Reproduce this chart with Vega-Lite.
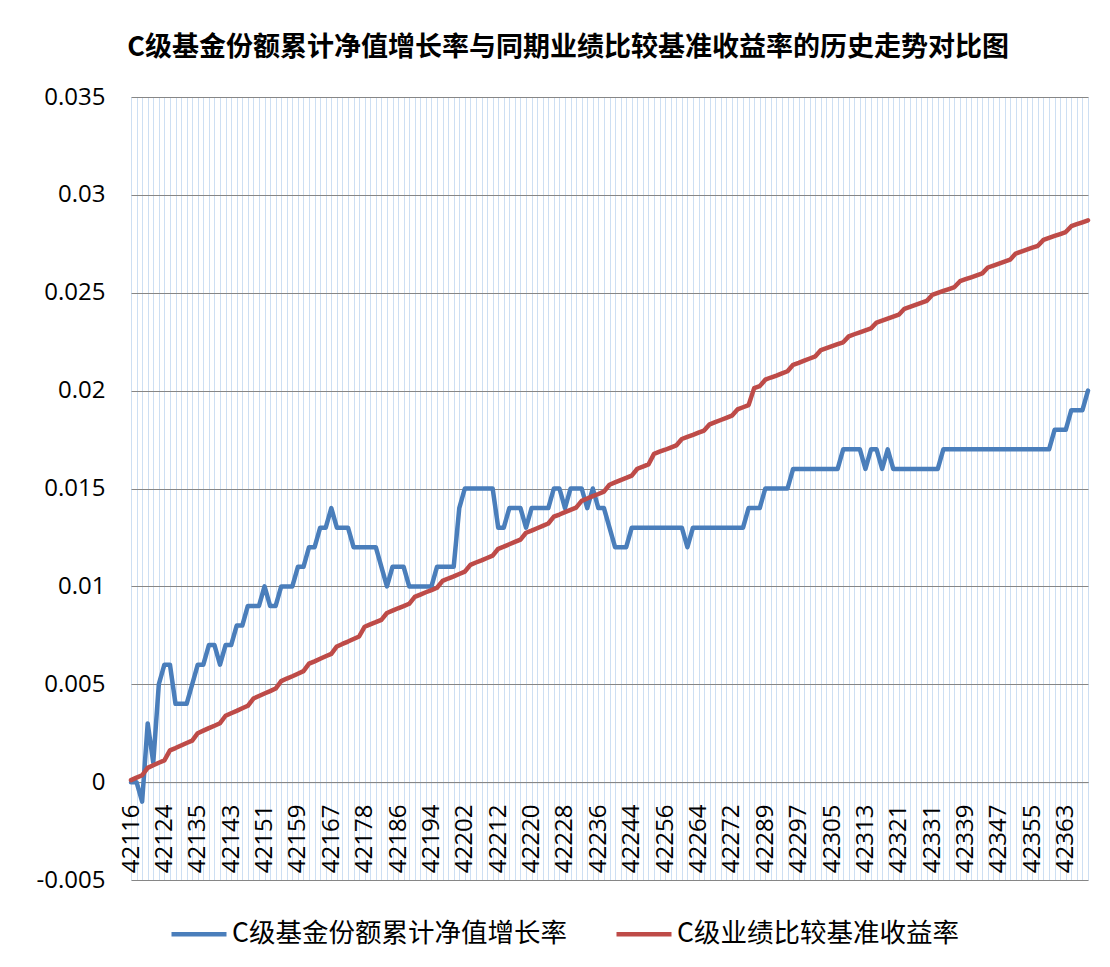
{
  "$schema": "https://vega.github.io/schema/vega-lite/v6.json",
  "width": 957,
  "height": 783,
  "autosize": {"type": "none"},
  "padding": {"left": 131, "top": 97, "right": 22, "bottom": 87},
  "background": "white",
  "title": {
    "text": "C级基金份额累计净值增长率与同期业绩比较基准收益率的历史走势对比图",
    "anchor": "middle",
    "frame": "bounds",
    "font": "Noto Sans CJK SC",
    "fontSize": 27,
    "fontWeight": "bold",
    "color": "#000000",
    "offset": 23
  },
  "data": {
    "values": [
      {"d": "42116", "fund": 0, "benchmark": 0.0001},
      {"d": "42117", "fund": 0, "benchmark": 0.00023},
      {"d": "42118", "fund": -0.001, "benchmark": 0.00035},
      {"d": "42121", "fund": 0.003, "benchmark": 0.00073},
      {"d": "42122", "fund": 0.001, "benchmark": 0.00086},
      {"d": "42123", "fund": 0.005, "benchmark": 0.00099},
      {"d": "42124", "fund": 0.006, "benchmark": 0.00111},
      {"d": "42128", "fund": 0.006, "benchmark": 0.00162},
      {"d": "42129", "fund": 0.004, "benchmark": 0.00174},
      {"d": "42130", "fund": 0.004, "benchmark": 0.00187},
      {"d": "42131", "fund": 0.004, "benchmark": 0.002},
      {"d": "42132", "fund": 0.005, "benchmark": 0.00212},
      {"d": "42135", "fund": 0.006, "benchmark": 0.0025},
      {"d": "42136", "fund": 0.006, "benchmark": 0.00263},
      {"d": "42137", "fund": 0.007, "benchmark": 0.00276},
      {"d": "42138", "fund": 0.007, "benchmark": 0.00288},
      {"d": "42139", "fund": 0.006, "benchmark": 0.00301},
      {"d": "42142", "fund": 0.007, "benchmark": 0.00339},
      {"d": "42143", "fund": 0.007, "benchmark": 0.00352},
      {"d": "42144", "fund": 0.008, "benchmark": 0.00364},
      {"d": "42145", "fund": 0.008, "benchmark": 0.00377},
      {"d": "42146", "fund": 0.009, "benchmark": 0.0039},
      {"d": "42149", "fund": 0.009, "benchmark": 0.00427},
      {"d": "42150", "fund": 0.009, "benchmark": 0.0044},
      {"d": "42151", "fund": 0.01, "benchmark": 0.00453},
      {"d": "42152", "fund": 0.009, "benchmark": 0.00465},
      {"d": "42153", "fund": 0.009, "benchmark": 0.00478},
      {"d": "42156", "fund": 0.01, "benchmark": 0.00516},
      {"d": "42157", "fund": 0.01, "benchmark": 0.00529},
      {"d": "42158", "fund": 0.01, "benchmark": 0.00541},
      {"d": "42159", "fund": 0.011, "benchmark": 0.00554},
      {"d": "42160", "fund": 0.011, "benchmark": 0.00567},
      {"d": "42163", "fund": 0.012, "benchmark": 0.00605},
      {"d": "42164", "fund": 0.012, "benchmark": 0.00617},
      {"d": "42165", "fund": 0.013, "benchmark": 0.0063},
      {"d": "42166", "fund": 0.013, "benchmark": 0.00643},
      {"d": "42167", "fund": 0.014, "benchmark": 0.00655},
      {"d": "42170", "fund": 0.013, "benchmark": 0.00693},
      {"d": "42171", "fund": 0.013, "benchmark": 0.00706},
      {"d": "42172", "fund": 0.013, "benchmark": 0.00718},
      {"d": "42173", "fund": 0.012, "benchmark": 0.00731},
      {"d": "42174", "fund": 0.012, "benchmark": 0.00744},
      {"d": "42178", "fund": 0.012, "benchmark": 0.00794},
      {"d": "42179", "fund": 0.012, "benchmark": 0.00806},
      {"d": "42180", "fund": 0.012, "benchmark": 0.00817},
      {"d": "42181", "fund": 0.011, "benchmark": 0.00829},
      {"d": "42184", "fund": 0.01, "benchmark": 0.00864},
      {"d": "42185", "fund": 0.011, "benchmark": 0.00876},
      {"d": "42186", "fund": 0.011, "benchmark": 0.00888},
      {"d": "42187", "fund": 0.011, "benchmark": 0.00899},
      {"d": "42188", "fund": 0.01, "benchmark": 0.00911},
      {"d": "42191", "fund": 0.01, "benchmark": 0.00946},
      {"d": "42192", "fund": 0.01, "benchmark": 0.00958},
      {"d": "42193", "fund": 0.01, "benchmark": 0.0097},
      {"d": "42194", "fund": 0.01, "benchmark": 0.00981},
      {"d": "42195", "fund": 0.011, "benchmark": 0.00993},
      {"d": "42198", "fund": 0.011, "benchmark": 0.01028},
      {"d": "42199", "fund": 0.011, "benchmark": 0.0104},
      {"d": "42200", "fund": 0.011, "benchmark": 0.01051},
      {"d": "42201", "fund": 0.014, "benchmark": 0.01063},
      {"d": "42202", "fund": 0.015, "benchmark": 0.01075},
      {"d": "42205", "fund": 0.015, "benchmark": 0.0111},
      {"d": "42206", "fund": 0.015, "benchmark": 0.01122},
      {"d": "42207", "fund": 0.015, "benchmark": 0.01133},
      {"d": "42208", "fund": 0.015, "benchmark": 0.01145},
      {"d": "42209", "fund": 0.015, "benchmark": 0.01157},
      {"d": "42212", "fund": 0.013, "benchmark": 0.01192},
      {"d": "42213", "fund": 0.013, "benchmark": 0.01203},
      {"d": "42214", "fund": 0.014, "benchmark": 0.01215},
      {"d": "42215", "fund": 0.014, "benchmark": 0.01227},
      {"d": "42216", "fund": 0.014, "benchmark": 0.01239},
      {"d": "42219", "fund": 0.013, "benchmark": 0.01274},
      {"d": "42220", "fund": 0.014, "benchmark": 0.01285},
      {"d": "42221", "fund": 0.014, "benchmark": 0.01297},
      {"d": "42222", "fund": 0.014, "benchmark": 0.01309},
      {"d": "42223", "fund": 0.014, "benchmark": 0.01321},
      {"d": "42226", "fund": 0.015, "benchmark": 0.01356},
      {"d": "42227", "fund": 0.015, "benchmark": 0.01367},
      {"d": "42228", "fund": 0.014, "benchmark": 0.01379},
      {"d": "42229", "fund": 0.015, "benchmark": 0.01391},
      {"d": "42230", "fund": 0.015, "benchmark": 0.01402},
      {"d": "42233", "fund": 0.015, "benchmark": 0.01437},
      {"d": "42234", "fund": 0.014, "benchmark": 0.01449},
      {"d": "42235", "fund": 0.015, "benchmark": 0.01461},
      {"d": "42236", "fund": 0.014, "benchmark": 0.01472},
      {"d": "42237", "fund": 0.014, "benchmark": 0.01484},
      {"d": "42240", "fund": 0.013, "benchmark": 0.01519},
      {"d": "42241", "fund": 0.012, "benchmark": 0.01531},
      {"d": "42242", "fund": 0.012, "benchmark": 0.01543},
      {"d": "42243", "fund": 0.012, "benchmark": 0.01554},
      {"d": "42244", "fund": 0.013, "benchmark": 0.01566},
      {"d": "42247", "fund": 0.013, "benchmark": 0.01601},
      {"d": "42248", "fund": 0.013, "benchmark": 0.01612},
      {"d": "42249", "fund": 0.013, "benchmark": 0.01623},
      {"d": "42254", "fund": 0.013, "benchmark": 0.01677},
      {"d": "42255", "fund": 0.013, "benchmark": 0.01688},
      {"d": "42256", "fund": 0.013, "benchmark": 0.01698},
      {"d": "42257", "fund": 0.013, "benchmark": 0.01709},
      {"d": "42258", "fund": 0.013, "benchmark": 0.0172},
      {"d": "42261", "fund": 0.013, "benchmark": 0.01753},
      {"d": "42262", "fund": 0.012, "benchmark": 0.01764},
      {"d": "42263", "fund": 0.013, "benchmark": 0.01774},
      {"d": "42264", "fund": 0.013, "benchmark": 0.01785},
      {"d": "42265", "fund": 0.013, "benchmark": 0.01796},
      {"d": "42268", "fund": 0.013, "benchmark": 0.01828},
      {"d": "42269", "fund": 0.013, "benchmark": 0.01839},
      {"d": "42270", "fund": 0.013, "benchmark": 0.0185},
      {"d": "42271", "fund": 0.013, "benchmark": 0.01861},
      {"d": "42272", "fund": 0.013, "benchmark": 0.01872},
      {"d": "42275", "fund": 0.013, "benchmark": 0.01904},
      {"d": "42276", "fund": 0.013, "benchmark": 0.01915},
      {"d": "42277", "fund": 0.014, "benchmark": 0.01926},
      {"d": "42285", "fund": 0.014, "benchmark": 0.02013},
      {"d": "42286", "fund": 0.014, "benchmark": 0.02023},
      {"d": "42289", "fund": 0.015, "benchmark": 0.02056},
      {"d": "42290", "fund": 0.015, "benchmark": 0.02067},
      {"d": "42291", "fund": 0.015, "benchmark": 0.02077},
      {"d": "42292", "fund": 0.015, "benchmark": 0.02088},
      {"d": "42293", "fund": 0.015, "benchmark": 0.02099},
      {"d": "42296", "fund": 0.016, "benchmark": 0.02132},
      {"d": "42297", "fund": 0.016, "benchmark": 0.02142},
      {"d": "42298", "fund": 0.016, "benchmark": 0.02153},
      {"d": "42299", "fund": 0.016, "benchmark": 0.02164},
      {"d": "42300", "fund": 0.016, "benchmark": 0.02175},
      {"d": "42303", "fund": 0.016, "benchmark": 0.02207},
      {"d": "42304", "fund": 0.016, "benchmark": 0.02217},
      {"d": "42305", "fund": 0.016, "benchmark": 0.02227},
      {"d": "42306", "fund": 0.016, "benchmark": 0.02237},
      {"d": "42307", "fund": 0.017, "benchmark": 0.02247},
      {"d": "42310", "fund": 0.017, "benchmark": 0.02277},
      {"d": "42311", "fund": 0.017, "benchmark": 0.02288},
      {"d": "42312", "fund": 0.017, "benchmark": 0.02298},
      {"d": "42313", "fund": 0.016, "benchmark": 0.02308},
      {"d": "42314", "fund": 0.017, "benchmark": 0.02318},
      {"d": "42317", "fund": 0.017, "benchmark": 0.02348},
      {"d": "42318", "fund": 0.016, "benchmark": 0.02358},
      {"d": "42319", "fund": 0.017, "benchmark": 0.02368},
      {"d": "42320", "fund": 0.016, "benchmark": 0.02378},
      {"d": "42321", "fund": 0.016, "benchmark": 0.02388},
      {"d": "42324", "fund": 0.016, "benchmark": 0.02418},
      {"d": "42325", "fund": 0.016, "benchmark": 0.02428},
      {"d": "42326", "fund": 0.016, "benchmark": 0.02438},
      {"d": "42327", "fund": 0.016, "benchmark": 0.02448},
      {"d": "42328", "fund": 0.016, "benchmark": 0.02458},
      {"d": "42331", "fund": 0.016, "benchmark": 0.02489},
      {"d": "42332", "fund": 0.016, "benchmark": 0.02499},
      {"d": "42333", "fund": 0.017, "benchmark": 0.02509},
      {"d": "42334", "fund": 0.017, "benchmark": 0.02519},
      {"d": "42335", "fund": 0.017, "benchmark": 0.02529},
      {"d": "42338", "fund": 0.017, "benchmark": 0.02559},
      {"d": "42339", "fund": 0.017, "benchmark": 0.02569},
      {"d": "42340", "fund": 0.017, "benchmark": 0.02579},
      {"d": "42341", "fund": 0.017, "benchmark": 0.02589},
      {"d": "42342", "fund": 0.017, "benchmark": 0.02599},
      {"d": "42345", "fund": 0.017, "benchmark": 0.02629},
      {"d": "42346", "fund": 0.017, "benchmark": 0.02639},
      {"d": "42347", "fund": 0.017, "benchmark": 0.02649},
      {"d": "42348", "fund": 0.017, "benchmark": 0.02659},
      {"d": "42349", "fund": 0.017, "benchmark": 0.02669},
      {"d": "42352", "fund": 0.017, "benchmark": 0.027},
      {"d": "42353", "fund": 0.017, "benchmark": 0.0271},
      {"d": "42354", "fund": 0.017, "benchmark": 0.0272},
      {"d": "42355", "fund": 0.017, "benchmark": 0.0273},
      {"d": "42356", "fund": 0.017, "benchmark": 0.0274},
      {"d": "42359", "fund": 0.017, "benchmark": 0.0277},
      {"d": "42360", "fund": 0.017, "benchmark": 0.0278},
      {"d": "42361", "fund": 0.018, "benchmark": 0.0279},
      {"d": "42362", "fund": 0.018, "benchmark": 0.028},
      {"d": "42363", "fund": 0.018, "benchmark": 0.0281},
      {"d": "42366", "fund": 0.019, "benchmark": 0.0284},
      {"d": "42367", "fund": 0.019, "benchmark": 0.0285},
      {"d": "42368", "fund": 0.019, "benchmark": 0.0286},
      {"d": "42369", "fund": 0.02, "benchmark": 0.0287}
    ]
  },
  "transform": [{"fold": ["fund", "benchmark"], "as": ["s", "v"]}],
  "mark": {"type": "line", "strokeWidth": 4.5, "strokeJoin": "round", "strokeCap": "round"},
  "encoding": {
    "x": {
      "field": "d",
      "type": "ordinal",
      "sort": null,
      "scale": {"type": "point", "padding": 0},
      "axis": {
        "title": null,
        "labelAngle": -90,
        "labelExpr": "indexof(['42116','42124','42135','42143','42151','42159','42167','42178','42186','42194','42202','42212','42220','42228','42236','42244','42256','42264','42272','42289','42297','42305','42313','42321','42331','42339','42347','42355','42363'], datum.label) >= 0 ? datum.label : ''",
        "labelOverlap": false,
        "labelBound": false,
        "labelFlush": false,
        "labelFont": "Open Sans",
        "labelFontSize": 24,
        "labelColor": "#000000",
        "labelPadding": 22,
        "labelDy": 4,
        "ticks": false,
        "grid": true,
        "gridColor": "#cddff3",
        "gridWidth": 1,
        "domain": true,
        "domainColor": "#868686",
        "domainWidth": 1,
        "offset": -97.875
      }
    },
    "y": {
      "field": "v",
      "type": "quantitative",
      "scale": {"domain": [-0.005, 0.035], "nice": false, "zero": false},
      "axis": {
        "title": null,
        "values": [-0.005, 0, 0.005, 0.01, 0.015, 0.02, 0.025, 0.03, 0.035],
        "labelExpr": "replace(format(datum.value, '~f'), '\u2212', '-')",
        "labelFont": "Open Sans",
        "labelFontSize": 24,
        "labelColor": "#000000",
        "labelPadding": 26,
        "ticks": false,
        "domain": false,
        "grid": true,
        "gridColor": "#868686",
        "gridWidth": 1
      }
    },
    "color": {
      "field": "s",
      "type": "nominal",
      "scale": {"domain": ["fund", "benchmark"], "range": ["#4a7ebb", "#be4b48"]},
      "legend": {
        "title": null,
        "orient": "none",
        "legendX": 38,
        "legendY": 807,
        "direction": "horizontal",
        "symbolType": "stroke",
        "symbolSize": 3025,
        "symbolStrokeWidth": 4.5,
        "labelFont": "Noto Sans CJK SC",
        "labelFontSize": 26.5,
        "labelColor": "#000000",
        "labelOffset": 3,
        "labelLimit": 0,
        "columnPadding": 40,
        "labelExpr": "datum.label == 'fund' ? 'C级基金份额累计净值增长率' : 'C级业绩比较基准收益率'"
      }
    }
  },
  "config": {"view": {"stroke": null}}
}
